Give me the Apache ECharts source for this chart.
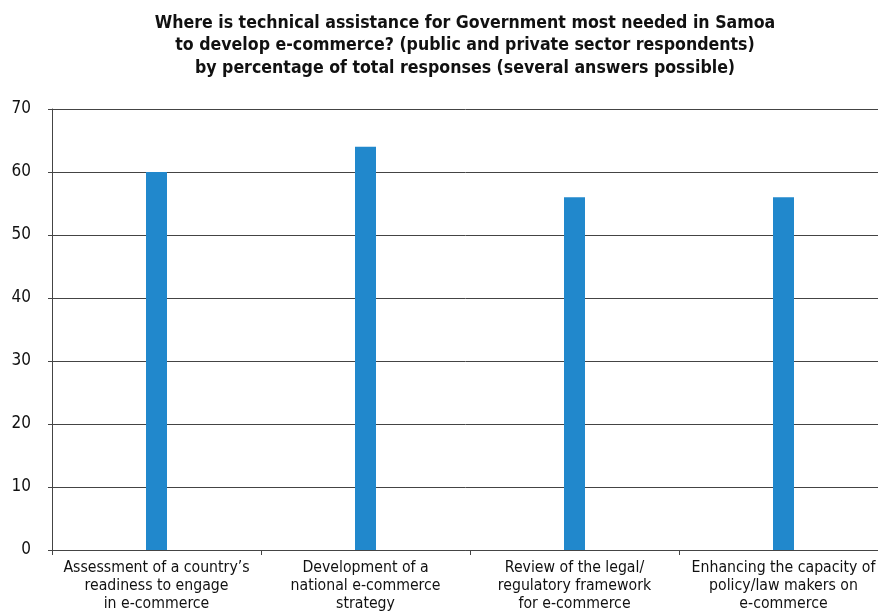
<!DOCTYPE html>
<html lang="en">
<head>
    <meta charset="UTF-8">
    <title>Samoa e-commerce technical assistance</title>
    <script src="https://cdn.jsdelivr.net/npm/echarts@6/dist/echarts.min.js"></script>
    <style>
        html, body { margin: 0; padding: 0; background: #fff; }
        #main { width: 878px; height: 612px; }
    </style>
</head>
<body>
    <div id="main"></div>
    <script>
        var titleText = 'Where is technical assistance for Government most needed in Samoa\n' +
            'to develop e-commerce? (public and private sector respondents)\n' +
            'by percentage of total responses (several answers possible)';

        var categories = [
            'Assessment of a country\u2019s\nreadiness to engage\nin e-commerce',
            'Development of a\nnational e-commerce\nstrategy',
            'Review of the legal/\nregulatory framework\nfor e-commerce',
            'Enhancing the capacity of\npolicy/law makers on\ne-commerce'
        ];
        var values = [60, 64, 56, 56];

        var font = '"DejaVu Sans Condensed", "Liberation Sans Narrow", sans-serif';

        var option = {
            backgroundColor: '#ffffff',
            animation: false,
            title: {
                text: titleText,
                left: 460,
                textAlign: 'center',
                top: 7,
                textStyle: {
                    fontFamily: font,
                    fontSize: 17.6,
                    fontWeight: 'bold',
                    lineHeight: 22.5,
                    color: '#111'
                }
            },
            // grid runs a little past the right edge, as in the source
            grid: {
                left: 52,
                width: 836,
                top: 109,
                bottom: 62,
                outerBoundsMode: 'none',
                containLabel: false
            },
            xAxis: {
                type: 'category',
                data: categories,
                axisLine: { lineStyle: { color: '#444', width: 1 } },
                axisTick: { show: true, length: 5, lineStyle: { color: '#444' } },
                axisLabel: {
                    interval: 0,
                    margin: 9,
                    fontFamily: font,
                    fontSize: 15.7,
                    lineHeight: 18,
                    color: '#111'
                }
            },
            yAxis: {
                type: 'value',
                min: 0,
                max: 70,
                interval: 10,
                axisLine: { show: true, lineStyle: { color: '#444', width: 1 } },
                axisTick: { show: true, length: 4, lineStyle: { color: '#444' } },
                splitLine: { lineStyle: { color: '#444', width: 1 } },
                axisLabel: {
                    margin: 21,
                    fontFamily: font,
                    fontSize: 17,
                    color: '#111'
                }
            },
            series: [{
                type: 'bar',
                data: values,
                barWidth: 21,
                itemStyle: { color: '#2188cc' }
            }]
        };

        var myChart = echarts.init(document.getElementById('main'));
        myChart.setOption(option);
    </script>
</body>
</html>
